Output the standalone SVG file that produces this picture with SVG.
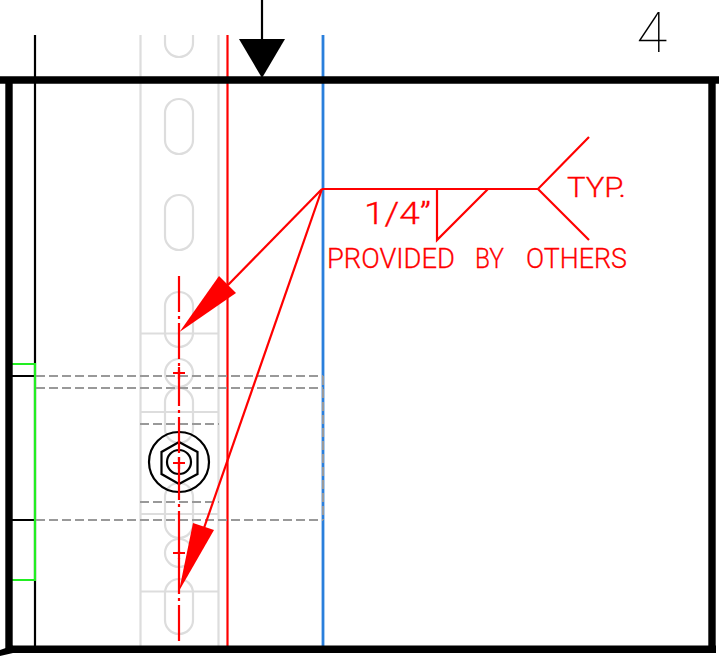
<svg xmlns="http://www.w3.org/2000/svg" width="719" height="657" viewBox="0 0 719 657">
<style>
.rail{fill:none;stroke:#ddd;stroke-width:2.200}
.gd{fill:none;stroke:#999;stroke-width:2;stroke-dasharray:9 4}
.r{fill:none;stroke:#f00;stroke-width:2.200}
.k{fill:none;stroke:#000;stroke-width:2.200}
.K{fill:none;stroke:#000;stroke-width:7.400}
.t{font-family:"Roboto","Liberation Sans",sans-serif;font-weight:300;fill:#f00;stroke:#f00;stroke-width:.3}
</style>
<rect width="719" height="657" fill="#fff"/>
<g id="channel">
<path class="rail" d="M140.500 35V648M218.500 35V648M140 333.500H218M140 412H218M140 514H218M140 591.500H218"/>
<path class="rail" d="M165 35V43A14 14 0 0 0 193 43V35"/>
<rect class="rail" x="165" y="99" width="28" height="55" rx="14"/>
<rect class="rail" x="165" y="195" width="28" height="55" rx="14"/>
<rect class="rail" x="165" y="292" width="28" height="55" rx="14"/>
<circle class="rail" cx="179" cy="373" r="14"/>
<rect class="rail" x="165" y="388" width="28" height="55" rx="14"/>
<rect class="rail" x="165" y="483" width="28" height="55" rx="14"/>
<circle class="rail" cx="179" cy="553" r="14"/>
<rect class="rail" x="165" y="579" width="28" height="55" rx="14"/>
</g>
<g id="frame-lines">
<path class="k" d="M35 35V648"/>
<path class="k" d="M12 376H35M12 520H35"/>
<path d="M227.500 35V648" class="r"/>
<path d="M323 35V648" fill="none" stroke="#2a7fdc" stroke-width="2.800"/>
<path fill="none" stroke="#22ee22" stroke-width="2.200" d="M12 364H35V580H12"/>
</g>
<g id="hidden-lines">
<path class="gd" d="M36 376H323M36 388H323M36 520H323M323 376V520"/>
<path class="gd" d="M140 424H219M140 502H219"/>
</g>
<g id="bolt">
<circle class="k" cx="179" cy="462" r="30"/>
<path class="k" style="fill:#fff" d="M179 442L197.500 452V474L179 484L161.500 474V452Z"/>
<circle class="k" cx="179" cy="462" r="12"/>
</g>
<g id="center-lines">
<path class="r" d="M179 276V645" stroke-dasharray="36 4 3 4"/>
<path class="r" d="M173 373H185M179 367V379M173 463H185M179 457V469M173 553H185M179 547V559"/>
</g>
<g id="connectors">
<path class="r" d="M322 189L228 285"/>
<path class="r" d="M322 189L204 528"/>
<path fill="#f00" d="M179.500 332L219 276L236 293Z"/>
<path fill="#f00" d="M179 591L193 523L214 530Z"/>
</g>
<g id="weld-symbol">
<path class="r" stroke-width="2.500" d="M322 189H538L589 137M538 189L589 240M437 189V240L488 189"/>
<text class="t" x="364" y="224" font-size="32" textLength="67" lengthAdjust="spacingAndGlyphs">1/4”</text>
<text class="t" x="567" y="197" font-size="28" textLength="59" lengthAdjust="spacingAndGlyphs">TYP.</text>
<text class="t" y="268" font-size="28"><tspan x="327" textLength="128" lengthAdjust="spacingAndGlyphs">PROVIDED</tspan> <tspan x="475" textLength="29" lengthAdjust="spacingAndGlyphs">BY</tspan> <tspan x="526" textLength="101" lengthAdjust="spacingAndGlyphs">OTHERS</tspan></text>
</g>
<g id="border">
<path class="K" d="M0 80H719"/>
<path d="M9 80V650" fill="none" stroke="#000" stroke-width="7.400"/>
<path d="M712 80V650" fill="none" stroke="#000" stroke-width="7.400"/>
<path class="K" d="M6 649.300H716"/>
<path d="M0 650L13 645.500V653L0 656Z" fill="#000"/>
</g>
<g id="section-marker">
<path class="k" d="M262 0V40"/>
<path fill="#000" d="M239 39H285L262 78Z"/>
<text x="636.500" y="52" font-family="Roboto,'Liberation Sans',sans-serif" font-weight="100" font-size="56" fill="#000">4</text>
</g>
</svg>
